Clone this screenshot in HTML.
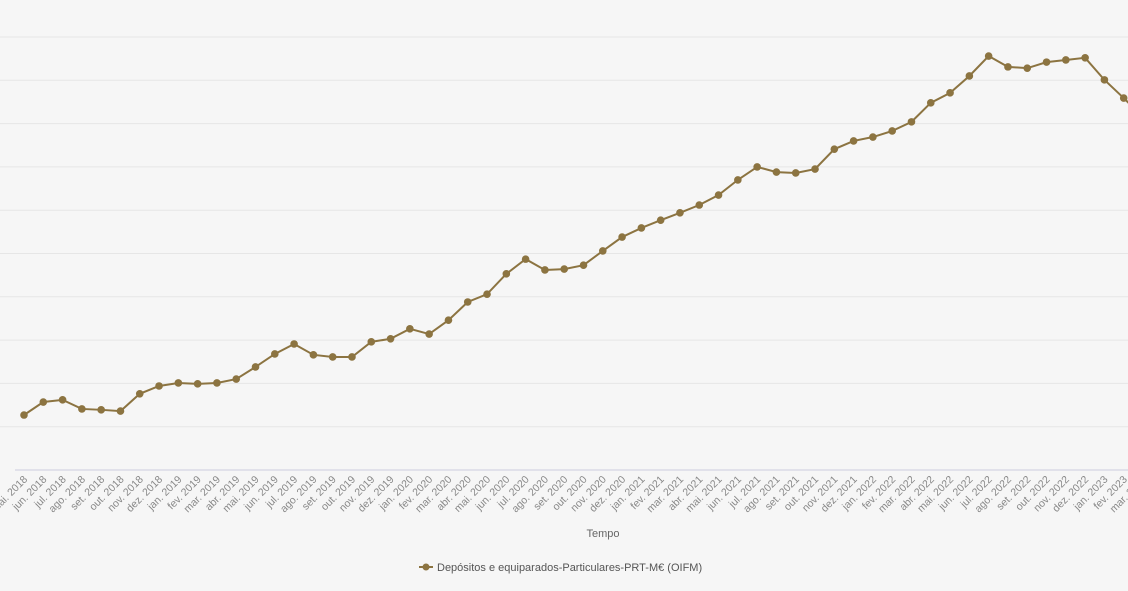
<!DOCTYPE html>
<html><head><meta charset="utf-8"><style>
html,body{margin:0;padding:0;background:#f6f6f6;}
svg{display:block;font-family:"Liberation Sans",sans-serif;}
</style></head><body>
<svg id="chart" width="1128" height="591">
<rect width="1128" height="591" fill="#f6f6f6"/>
<g id="grid"></g><g id="xlabels"></g><g id="series"></g>
<text x="603" y="537" font-size="11" fill="#666" text-anchor="middle">Tempo</text>
<g>
<line x1="419" y1="567" x2="433" y2="567" stroke="#8c7441" stroke-width="2"/>
<circle cx="426" cy="567" r="3.5" fill="#8c7441"/>
<text x="437" y="571" font-size="11" fill="#555">Depósitos e equiparados-Particulares-PRT-M€ (OIFM)</text>
</g>
</svg>
<script>
const categories=["mai. 2018","jun. 2018","jul. 2018","ago. 2018","set. 2018","out. 2018","nov. 2018","dez. 2018","jan. 2019","fev. 2019","mar. 2019","abr. 2019","mai. 2019","jun. 2019","jul. 2019","ago. 2019","set. 2019","out. 2019","nov. 2019","dez. 2019","jan. 2020","fev. 2020","mar. 2020","abr. 2020","mai. 2020","jun. 2020","jul. 2020","ago. 2020","set. 2020","out. 2020","nov. 2020","dez. 2020","jan. 2021","fev. 2021","mar. 2021","abr. 2021","mai. 2021","jun. 2021","jul. 2021","ago. 2021","set. 2021","out. 2021","nov. 2021","dez. 2021","jan. 2022","fev. 2022","mar. 2022","abr. 2022","mai. 2022","jun. 2022","jul. 2022","ago. 2022","set. 2022","out. 2022","nov. 2022","dez. 2022","jan. 2023","fev. 2023","mar. 2023"];
const values=[12.7,15.7,16.2,14.1,13.9,13.6,17.6,19.4,20.1,19.9,20.1,21.0,23.8,26.8,29.1,26.6,26.1,26.1,29.6,30.3,32.6,31.4,34.6,38.8,40.6,45.3,48.7,46.2,46.4,47.3,50.6,53.8,55.9,57.7,59.4,61.2,63.5,67.0,70.0,68.8,68.6,69.5,74.1,76.0,76.9,78.3,80.4,84.8,87.1,91.0,95.6,93.1,92.8,94.2,94.7,95.2,90.1,85.9,81.5];
const yTicks=[0,10,20,30,40,50,60,70,80,90,100];
const NS="http://www.w3.org/2000/svg";
const x0=24,x1=1143,yBase=470,yTop=37,yMax=100;
function xs(i){return x0+i*(x1-x0)/(categories.length-1);}
function ys(v){return yBase-(v/yMax)*(yBase-yTop);}
const grid=document.getElementById('grid');
yTicks.forEach(t=>{
 const l=document.createElementNS(NS,'line');
 
 
 l.setAttribute('x1',t===0?15:0);l.setAttribute('x2',1128);
 l.setAttribute('y1',ys(t));l.setAttribute('y2',ys(t));
 l.setAttribute('stroke',t===0?'#ccd':'#e6e6e6');l.setAttribute('stroke-width',1);
 grid.appendChild(l);
});
const xl=document.getElementById('xlabels');
categories.forEach((c,i)=>{
 const t=document.createElementNS(NS,'text');
 
 
 const x=xs(i)+4,y=480;
 t.setAttribute('x',x);t.setAttribute('y',y);
 t.setAttribute('text-anchor','end');t.setAttribute('font-size','10.5');t.setAttribute('fill','#888');
 t.setAttribute('transform','rotate(-45 '+x+' '+y+')');
 t.textContent=c;xl.appendChild(t);
});
const s=document.getElementById('series');
const p=document.createElementNS(NS,'polyline');


p.setAttribute('points',values.map((v,i)=>xs(i)+','+ys(v)).join(' '));
p.setAttribute('fill','none');p.setAttribute('stroke','#8c7441');p.setAttribute('stroke-width','2');
s.appendChild(p);
values.forEach((v,i)=>{
 const c=document.createElementNS(NS,'circle');
 
 
 c.setAttribute('cx',xs(i));c.setAttribute('cy',ys(v));c.setAttribute('r',3.8);c.setAttribute('fill','#8c7441');
 s.appendChild(c);
});
</script>
</body></html>
